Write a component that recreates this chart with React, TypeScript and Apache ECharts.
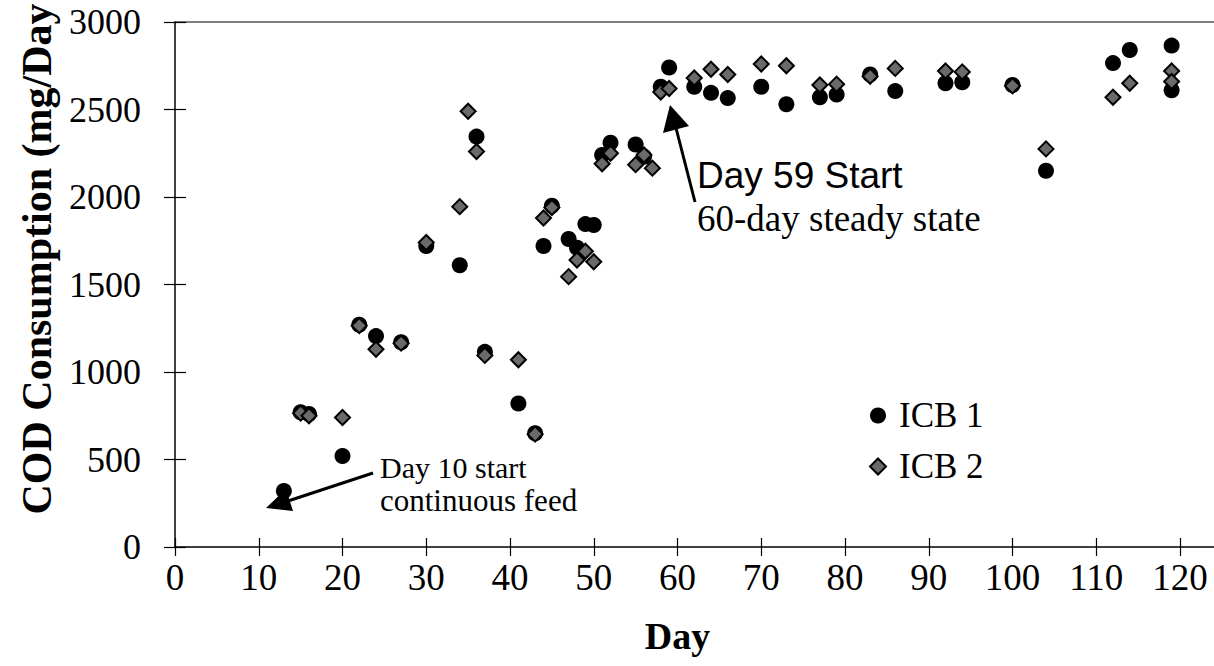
import React, { useEffect, useRef } from "react";
import * as echarts from "echarts";

// ---- Data ----
const icb1Days = [13, 15, 16, 20, 22, 24, 27, 30, 34, 36, 37, 41, 43, 44, 45, 47, 48, 49, 50, 51, 52, 55, 56, 58, 59, 62, 64, 66, 70, 73, 77, 79, 83, 86, 92, 94, 100, 104, 112, 114, 119, 119];
const icb1Values = [320, 770, 760, 520, 1270, 1205, 1170, 1720, 1610, 2345, 1115, 820, 650, 1720, 1950, 1760, 1710, 1845, 1840, 2240, 2310, 2300, 2230, 2630, 2740, 2630, 2595, 2565, 2630, 2530, 2570, 2585, 2700, 2605, 2650, 2655, 2640, 2150, 2765, 2840, 2865, 2610];

const icb2Days = [15, 16, 20, 22, 24, 27, 30, 34, 35, 36, 37, 41, 43, 44, 45, 47, 48, 49, 50, 51, 52, 55, 56, 57, 58, 59, 62, 64, 66, 70, 73, 77, 79, 83, 86, 92, 94, 100, 104, 112, 114, 119, 119];
const icb2Values = [765, 750, 740, 1265, 1130, 1165, 1740, 1945, 2490, 2260, 1095, 1070, 645, 1880, 1940, 1545, 1640, 1690, 1630, 2190, 2250, 2185, 2240, 2165, 2600, 2620, 2680, 2730, 2700, 2760, 2750, 2640, 2645, 2690, 2735, 2720, 2715, 2635, 2275, 2570, 2650, 2720, 2660];

const seriesNames = ["ICB 1", "ICB 2"];
const xRange = { min: 0, max: 120, interval: 10 };
const yRange = { min: 0, max: 3000, interval: 500 };
const xTitle = "Day";
const yTitle = "COD Consumption (mg/Day";
const note1 = ["Day 10 start", "continuous feed"];
const note2 = ["Day 59 Start", "60-day steady state"];

const SERIF = '"Liberation Serif", "Times New Roman", serif';
const SANS = '"Liberation Sans", Arial, sans-serif';

export default function App() {
  const ref = useRef<HTMLDivElement>(null);

  useEffect(() => {
    document.body.style.margin = "0";
    const chart = echarts.init(ref.current as HTMLDivElement, null, { renderer: "svg" });
    const pairs = (d: number[], v: number[]) => d.map((x, i) => [x, v[i]]);
    const axisLineStyle = { color: "#000", width: 1.5 };
    const tickStyle = { color: "#000", width: 1.2 };

    chart.setOption({
      animation: false,
      backgroundColor: "#fff",
      grid: { left: 175, right: 34, top: 22, bottom: 119, containLabel: false },
      xAxis: [
        {
          type: "value",
          ...xRange,
          position: "bottom",
          axisLine: { lineStyle: axisLineStyle },
          axisTick: { length: 9, lineStyle: tickStyle },
          axisLabel: { color: "#000", fontFamily: SERIF, fontSize: 37, margin: 12, formatter: (v: number) => String(v) },
          splitLine: { show: false },
          name: xTitle,
          nameLocation: "middle",
          nameGap: 70,
          nameTextStyle: { color: "#000", fontFamily: SERIF, fontSize: 38, fontWeight: "bold" },
        },
        {
          type: "value",
          ...xRange,
          position: "bottom",
          axisLine: { show: false },
          axisTick: { inside: true, length: 9, lineStyle: tickStyle },
          axisLabel: { show: false },
          splitLine: { show: false },
        },
      ],
      yAxis: [
        {
          type: "value",
          ...yRange,
          position: "left",
          axisLine: { show: true, lineStyle: axisLineStyle },
          axisTick: { show: true, length: 11, lineStyle: tickStyle },
          axisLabel: { color: "#000", fontFamily: SERIF, fontSize: 36, margin: 34, formatter: (v: number) => String(v) },
          splitLine: { show: false },
        },
        {
          type: "value",
          ...yRange,
          position: "left",
          axisLine: { show: false },
          axisTick: { show: true, inside: true, length: 11, lineStyle: tickStyle },
          axisLabel: { show: false },
          splitLine: { show: false },
        },
      ],
      legend: {
        orient: "vertical",
        left: 864,
        top: 393,
        itemWidth: 16,
        itemHeight: 16,
        itemGap: 16,
        data: [
          { name: seriesNames[0], icon: "circle" },
          { name: seriesNames[1], icon: "diamond" },
        ],
        textStyle: { color: "#000", fontFamily: SERIF, fontSize: 35, padding: [0, 0, 0, 8] },
      },
      series: [
        {
          name: seriesNames[0],
          type: "scatter",
          symbol: "circle",
          symbolSize: 16,
          itemStyle: { color: "#000", opacity: 1 },
          data: pairs(icb1Days, icb1Values),
        },
        {
          name: seriesNames[1],
          type: "scatter",
          symbol: "diamond",
          symbolSize: 15,
          itemStyle: { color: "#6a6a6a", borderColor: "#000", borderWidth: 2, opacity: 1 },
          data: pairs(icb2Days, icb2Values),
        },
      ],
      graphic: [
        { type: "line", shape: { x1: 175, y1: 22, x2: 1214, y2: 22 }, style: { stroke: "#000", lineWidth: 1.2 } },
        { type: "line", shape: { x1: 1180, y1: 547, x2: 1214, y2: 547 }, style: { stroke: "#000", lineWidth: 1.5 } },
        {
          type: "text",
          x: 37,
          y: 259,
          rotation: Math.PI / 2,
          style: { text: yTitle, fill: "#000", font: `bold 42px ${SERIF}`, align: "center", verticalAlign: "middle" },
        },
        // arrow 1
        { type: "line", shape: { x1: 373, y1: 473, x2: 288, y2: 501 }, style: { stroke: "#000", lineWidth: 3 } },
        { type: "polygon", shape: { points: [[266, 508], [286, 489], [293, 511]] }, style: { fill: "#000" } },
        { type: "text", x: 380, y: 467, style: { text: note1[0], fill: "#000", font: `30px ${SERIF}`, align: "left", verticalAlign: "middle" } },
        { type: "text", x: 380, y: 500, style: { text: note1[1], fill: "#000", font: `31px ${SERIF}`, align: "left", verticalAlign: "middle" } },
        // arrow 2
        { type: "line", shape: { x1: 695, y1: 202, x2: 676, y2: 128 }, style: { stroke: "#000", lineWidth: 3 } },
        { type: "polygon", shape: { points: [[670, 105], [689, 126], [663, 133]] }, style: { fill: "#000" } },
        { type: "text", x: 697, y: 175, style: { text: note2[0], fill: "#000", font: `37px ${SANS}`, align: "left", verticalAlign: "middle" } },
        { type: "text", x: 697, y: 218, style: { text: note2[1], fill: "#000", font: `37px ${SERIF}`, align: "left", verticalAlign: "middle" } },
      ],
    });

    return () => chart.dispose();
  }, []);

  return <div ref={ref} style={{ width: 1214, height: 666 }} />;
}
